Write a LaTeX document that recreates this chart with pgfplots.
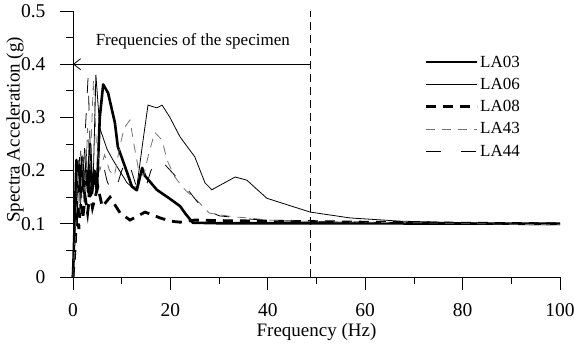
\documentclass[border=0pt]{standalone}
\usepackage{pgfplots}
\pgfplotsset{compat=1.18}
\usepackage{fontspec}
\setmainfont{Liberation Serif}
\usetikzlibrary{arrows.meta}
\newcommand{\ff}{\fontsize{17bp}{20bp}\selectfont}
\newcommand{\ftk}{\fontsize{19.5bp}{22bp}\selectfont}
\newcommand{\flb}{\fontsize{19bp}{22bp}\selectfont}
\begin{document}
\begin{tikzpicture}
\begin{axis}[
 width=487bp, height=266bp, scale only axis,
 xmin=0, xmax=100, ymin=0, ymax=0.5,
 axis x line*=bottom, axis y line*=left,
 axis line style={-, line width=0.8bp},
 tick align=outside,
 major tick length=13bp, minor tick length=7bp,
 xtick={0,20,40,60,80,100}, minor xtick={10,30,50,70,90},
 xticklabels={0,20,40,60,80,100},
 ytick={0,0.1,0.2,0.3,0.4,0.5}, minor ytick={0.05,0.15,0.25,0.35,0.45},
 yticklabels={0,0.1,0.2,0.3,0.4,0.5},
 tick style={black, line width=0.8bp},
 xticklabel style={font=\ftk, anchor=center, yshift=-20bp, inner sep=0pt, text depth=0pt},
 yticklabel style={font=\ftk, xshift=-11bp},
 xlabel={Frequency (Hz)}, ylabel={Spectra Acceleration (g)},
 xlabel style={font=\flb, at={(axis description cs:0.5,0)}, anchor=center, yshift=-55bp, inner sep=0pt},
 ylabel style={font=\flb, at={(axis description cs:0,0.553)}, anchor=center, rotate=0, yshift=58bp},
 clip=false,
 legend style={at={(0.721,0.84)}, anchor=north west, draw=none, fill=none, font=\ff, row sep=5.5bp, inner sep=0pt},
 legend cell align=left,
 legend image code/.code={\draw[#1] (0bp,0bp) -- (51bp,0bp);},
]
% LA03
\addplot[forget plot, black, line width=2.6bp, line join=round] coordinates {
(0,0) (0.4,0.12) (0.7,0.22) (1.0,0.16) (1.3,0.21) (1.6,0.15) (1.9,0.225) (2.3,0.17) (2.7,0.2) (3.1,0.16) (3.5,0.25) (3.9,0.157) (4.4,0.2) (4.9,0.16) (5.5,0.3) (6.2,0.362) (7.2,0.346) (8.6,0.29) (9.2,0.245) (10.7,0.207) (12.1,0.17) (13.1,0.163) (14.2,0.205) (14.8,0.19) (17.2,0.164) (19.9,0.147) (22,0.133) (23,0.12) (24.6,0.102) (30,0.101) (50,0.101) (100,0.1)};
% LA06
\addplot[forget plot, black, line width=0.8bp] coordinates {
(0,0) (0.3,0.08) (0.6,0.18) (0.9,0.1) (1.2,0.22) (1.5,0.13) (1.9,0.2) (2.3,0.14) (2.7,0.24) (3.1,0.15) (3.6,0.2) (4.1,0.163) (4.7,0.38) (5.5,0.28) (7,0.24) (8.2,0.22) (11.1,0.177) (12.1,0.169) (13.1,0.169) (14.4,0.258) (15.4,0.323) (17.2,0.318) (18.3,0.323) (19.9,0.30) (22,0.263) (25,0.226) (27.1,0.177) (28.5,0.164) (33.3,0.188) (35.7,0.182) (39.8,0.148) (48.7,0.122) (56.9,0.111) (67.1,0.105) (84,0.101) (100,0.1)};
% LA08
\addplot[forget plot, black, line width=2.8bp, dash pattern=on 10bp off 7bp] coordinates {
(0,0) (0.4,0.05) (0.8,0.13) (1.2,0.09) (1.5,0.14) (2,0.11) (2.5,0.15) (3,0.12) (3.5,0.16) (4,0.13) (5.1,0.17) (6,0.132) (7.6,0.15) (9.7,0.12) (11.7,0.107) (14.8,0.122) (17.9,0.111) (20,0.105) (22,0.103) (25,0.107) (30,0.106) (40,0.105) (50,0.104) (60,0.103) (80,0.101) (100,0.1)};
% LA43
\addplot[forget plot, black!55, line width=0.8bp, dash pattern=on 9bp off 7bp] coordinates {
(0,0) (0.5,0.08) (1,0.2) (1.5,0.12) (2,0.23) (2.5,0.16) (3,0.28) (3.5,0.2) (4.2,0.37) (4.8,0.25) (5.5,0.2) (6.5,0.23) (7.5,0.2) (8.5,0.19) (9.5,0.24) (10.5,0.28) (11.7,0.295) (12.5,0.25) (13.5,0.2) (14.5,0.19) (15.5,0.23) (16.8,0.272) (18.3,0.257) (19.3,0.22) (20.9,0.188) (23,0.164) (26,0.139) (28,0.12) (33,0.113) (36,0.111) (40,0.107) (50,0.104) (70,0.102) (100,0.098)};
% LA44
\addplot[forget plot, black, line width=0.8bp, dash pattern=on 15bp off 20bp] coordinates {
(0,0) (0.5,0.12) (1,0.17) (1.5,0.25) (2,0.16) (2.5,0.27) (3.1,0.376) (3.6,0.22) (4.2,0.16) (5,0.2) (6,0.22) (7,0.18) (8,0.16) (9,0.17) (10,0.2) (11,0.22) (12,0.2) (13,0.17) (14,0.16) (15,0.17) (16,0.2) (17.5,0.22) (19,0.21) (20.5,0.195) (23.5,0.165) (26.5,0.13) (30,0.115) (35,0.11) (40,0.106) (50,0.104) (100,0.1)};
% annotations
\addplot[forget plot, black, line width=0.8bp, dash pattern=on 8bp off 5bp] coordinates {(48.7,0) (48.7,0.5)};
\addplot[forget plot, black, line width=0.8bp, -{Straight Barb[length=7bp,width=11bp]}] coordinates {(48.7,0.4) (0,0.4)};
\node[font=\ff] at (axis cs:24.6,0.443) {Frequencies of the specimen};
\addlegendimage{black, line width=2.6bp}
\addlegendentry{LA03}
\addlegendimage{black, line width=0.8bp}
\addlegendentry{LA06}
\addlegendimage{black, line width=2.8bp, dash pattern=on 10bp off 7bp}
\addlegendentry{LA08}
\addlegendimage{black!55, line width=0.8bp, dash pattern=on 9bp off 7bp}
\addlegendentry{LA43}
\addlegendimage{black, line width=0.8bp, dash pattern=on 15bp off 20bp}
\addlegendentry{LA44}
\end{axis}
\pgfresetboundingbox
\path[use as bounding box] ([shift={(-73bp,-69bp)}]current axis.south west) rectangle ([shift={(14bp,11bp)}]current axis.north east);
\end{tikzpicture}
\end{document}
